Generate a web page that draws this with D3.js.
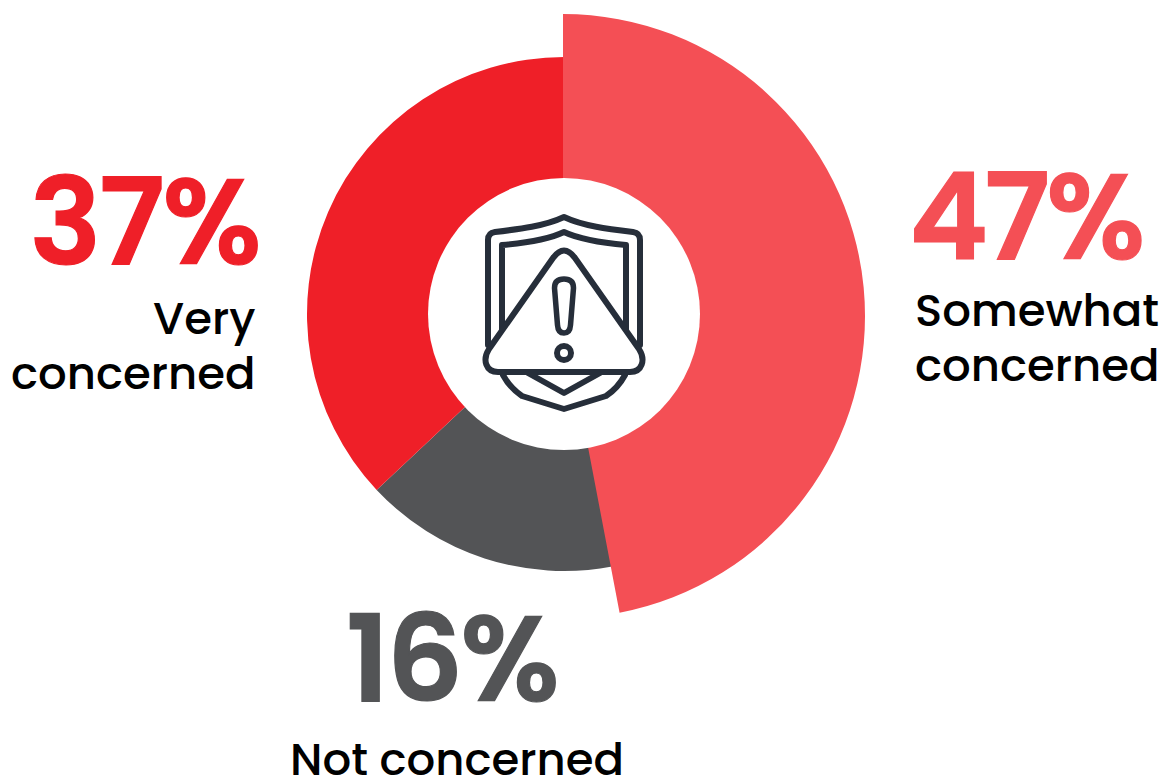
<!DOCTYPE html>
<html><head><meta charset="utf-8">
<script src="https://cdnjs.cloudflare.com/ajax/libs/d3/7.8.5/d3.min.js"></script>
<style>html,body{margin:0;background:#fff}svg{display:block}</style></head>
<body><svg width="1166" height="779"></svg>
<script>
const labels = ["Somewhat concerned", "Not concerned", "Very concerned"];
const values = [47, 16, 37];
const colors = ["#f44f55", "#535456", "#ef1f28"];
const outerRadii = [302, 257, 257];
const offsets = [[-1, 2], [0, 0], [0, 0]];
const svg = d3.select("svg");
const cx = 564, cy = 314, innerR = 136;
const arcs = d3.pie().sort(null).value(d => d)(values);
const arc = d3.arc().innerRadius(innerR - 10);
const g = svg.append("g").attr("transform", `translate(${cx},${cy})`);
// the largest slice is painted last so that it sits over its neighbours
g.selectAll("path").data(arcs).join("path")
  .attr("fill", (d, i) => colors[i])
  .attr("transform", (d, i) => `translate(${offsets[i]})`)
  .attr("d", (d, i) => arc.outerRadius(outerRadii[i])(d))
  .filter((d, i) => i === 0).raise();
g.append("circle").attr("r", innerR).attr("fill", "#fff");

// percentage and caption blocks
const font = "Poppins, Inter, 'Open Sans', sans-serif";
const blocks = [
  {i: 2, x: 29.5, y: 264, track: -2.5, a: "end", cap: ["Very", "concerned"], capX: 255.5, capY: [334, 389]},
  {i: 0, x: 909, y: 259, track: -4, a: "start", cap: ["Somewhat", "concerned"], capX: 915, capY: [326, 381]},
  {i: 1, x: 346, y: 701, track: -3, a: "start", cap: ["Not concerned"], capX: 290, capY: [775]}
];
blocks.forEach(b => {
  svg.append("text").attr("x", b.x).attr("y", b.y)
    .attr("font-family", font).attr("font-size", 120).attr("font-weight", 600)
    .attr("letter-spacing", b.track)
    .attr("stroke", colors[b.i]).attr("stroke-width", 1.2)
    .attr("fill", colors[b.i]).text(values[b.i] + "%");
  b.cap.forEach((t, k) => svg.append("text").attr("x", b.capX).attr("y", b.capY[k])
    .attr("text-anchor", b.a).attr("font-family", font).attr("font-size", 45)
    .attr("font-weight", 500).attr("fill", "#000").text(t));
});

// shield and warning icon in the hole
const icon = svg.append("g").attr("fill", "none").attr("stroke", "#262e3a")
  .attr("stroke-width", 6).attr("stroke-linejoin", "round").attr("stroke-linecap", "round");
icon.append("path").attr("d", "M488 345 L488 240 Q488 233 495 232 C520 229 545 226 564 217 C583 226 608 229 633 232 Q640 233 640 240 L640 345");
icon.append("path").attr("d", "M502 345 L502 245 C525 243 547 240 564 232 C581 240 603 243 626 245 L626 345");
icon.append("path").attr("d", "M503 375 Q510 388 522 396 L564 409 L606 396 Q618 388 625 375");
icon.append("path").attr("d", "M528 373 L564 393 L600 373");
icon.append("path").attr("fill", "#fff")
  .attr("d", "M553 258 Q564 243 575 258 L639 349 C646 360 642 372 630 372 L498 372 C486 372 482 360 489 349 Z");
icon.append("path").attr("stroke-width", 5.5)
  .attr("d", "M554.5 288 Q554.5 279 564 279 Q573.5 279 573.5 288 L570.5 325 Q570 333 564 333 Q558 333 557.5 325 Z");
icon.append("circle").attr("cx", 564).attr("cy", 353).attr("r", 7);
</script></body></html>
